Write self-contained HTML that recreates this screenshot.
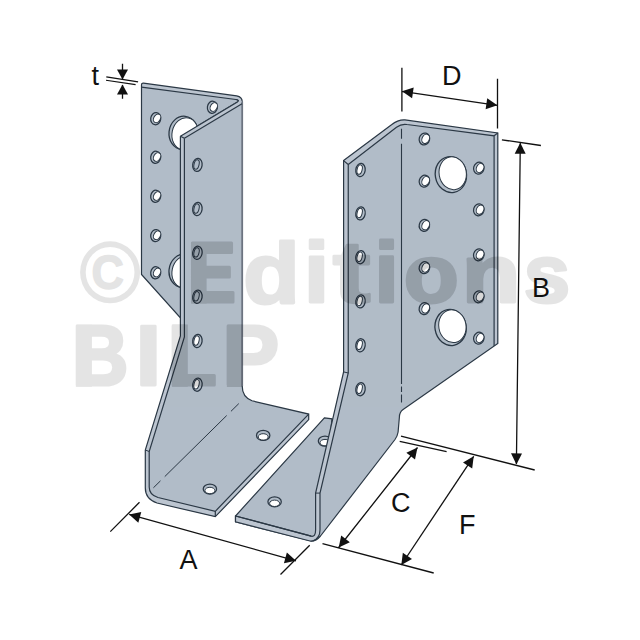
<!DOCTYPE html>
<html><head><meta charset="utf-8"><style>
html,body{margin:0;padding:0;background:#fff;width:640px;height:640px;overflow:hidden}
svg{display:block}
</style></head><body>
<svg width="640" height="640" viewBox="0 0 640 640">
<rect width="640" height="640" fill="#fff"/>
<path d="M141.5,85 Q141.5,83 143.5,83.2 L236.7,95.9 Q242.2,97 242.2,101.5 L242.2,340 L180.5,318 L141.5,274.5 Z" fill="#b1bcc8" stroke="none"/>
<path d="M141.5,85 Q141.5,83 143.5,83.2 L236.7,95.9 Q242.2,97 242.2,101.5 L242,103.8 L237.4,102 Q239.8,100.3 235.9,99.5 L141.5,87.2 Z" fill="#bcc5d0" stroke="none"/>
<path d="M141.5,85 Q141.5,83 143.5,83.2 L236.7,95.9 Q242.2,97 242.2,101.5 L242.2,340 L180.5,318 L141.5,274.5 Z" fill="none" stroke="#2b3845" stroke-width="1.2" />
<path d="M141.5,87.2 L235.9,99.5 Q239.8,100.3 237.4,102 L180.4,136.2" fill="none" stroke="#2b3845" stroke-width="1.2" />
<g transform="translate(155.7,118.7) rotate(8)"><ellipse rx="5.0" ry="6.1" fill="#b1bcc8" stroke="#2b3845" stroke-width="1.25"/><ellipse transform="translate(1.3,-0.5) rotate(22)" rx="3.3" ry="4.6" fill="#fff" stroke="#2b3845" stroke-width="1.0"/></g>
<g transform="translate(155.7,157.3) rotate(8)"><ellipse rx="5.0" ry="6.1" fill="#b1bcc8" stroke="#2b3845" stroke-width="1.25"/><ellipse transform="translate(1.3,-0.5) rotate(22)" rx="3.3" ry="4.6" fill="#fff" stroke="#2b3845" stroke-width="1.0"/></g>
<g transform="translate(155.7,196.3) rotate(8)"><ellipse rx="5.0" ry="6.1" fill="#b1bcc8" stroke="#2b3845" stroke-width="1.25"/><ellipse transform="translate(1.3,-0.5) rotate(22)" rx="3.3" ry="4.6" fill="#fff" stroke="#2b3845" stroke-width="1.0"/></g>
<g transform="translate(155.7,235.60000000000002) rotate(8)"><ellipse rx="5.0" ry="6.1" fill="#b1bcc8" stroke="#2b3845" stroke-width="1.25"/><ellipse transform="translate(1.3,-0.5) rotate(22)" rx="3.3" ry="4.6" fill="#fff" stroke="#2b3845" stroke-width="1.0"/></g>
<g transform="translate(155.7,272.8) rotate(8)"><ellipse rx="5.0" ry="6.1" fill="#b1bcc8" stroke="#2b3845" stroke-width="1.25"/><ellipse transform="translate(1.3,-0.5) rotate(22)" rx="3.3" ry="4.6" fill="#fff" stroke="#2b3845" stroke-width="1.0"/></g>
<g transform="translate(212.4,107.3) rotate(8)"><ellipse rx="5.0" ry="6.1" fill="#b1bcc8" stroke="#2b3845" stroke-width="1.25"/><ellipse transform="translate(1.3,-0.5) rotate(22)" rx="3.3" ry="4.6" fill="#fff" stroke="#2b3845" stroke-width="1.0"/></g>
<g transform="translate(183.5,133) rotate(6)"><ellipse rx="14.5" ry="16.8" fill="#b1bcc8" stroke="#2b3845" stroke-width="1.3"/><ellipse transform="translate(1.6,0.6) rotate(6)" rx="13.0" ry="16.2" fill="#fff" stroke="#2b3845" stroke-width="1.0"/></g>
<g transform="translate(183.5,271) rotate(6)"><ellipse rx="14.5" ry="16.8" fill="#b1bcc8" stroke="#2b3845" stroke-width="1.3"/><ellipse transform="translate(1.6,0.6) rotate(6)" rx="13.0" ry="16.2" fill="#fff" stroke="#2b3845" stroke-width="1.0"/></g>
<path d="M180.4,136.2 L237.9,101.6 Q240,100.5 242.2,101.5 L242.2,386 Q242.2,397 252,400.8 L308.7,414.1 L308.7,419.6 L215.3,516.7 L157,503 Q145.3,499 145.3,488 L145.3,450 L180.4,336 Z" fill="#b1bcc8" stroke="none"/>
<path d="M180.4,136.2 L237.9,101.6 Q240,100.5 242.2,101.5 L241.6,104.5 L184.4,138.3 Z" fill="#bcc5d0" stroke="none"/>
<path d="M180.4,136.2 L184.4,138.3 L184.4,337 L149.2,451.5 L149.2,487 Q149.2,495 158,497.5 L215.3,511.3 L308.7,414.1 L308.7,419.6 L215.3,516.7 L157,503 Q145.3,499 145.3,488 L145.3,450 L180.4,336 Z" fill="#bcc5d0" stroke="none"/>
<path d="M242.2,386 Q242.2,397 252,400.8 L308.7,414.1 L308.7,419.6 L215.3,516.7 L157,503 Q145.3,499 145.3,488 L145.3,450 L180.4,336 L180.4,136.2" fill="none" stroke="#2b3845" stroke-width="1.2" />
<path d="M242.2,101.5 L242.2,386" fill="none" stroke="#6c7480" stroke-width="1.8" />
<path d="M184.4,138.3 L242,103.8" fill="none" stroke="#2b3845" stroke-width="1.2" />
<path d="M235.9,99.5 Q239.8,100.3 237.4,102 L180.4,136.2" fill="none" stroke="#2b3845" stroke-width="1.2" />
<path d="M180.4,136.2 L184.4,138.3" fill="none" stroke="#2b3845" stroke-width="1.2" />
<path d="M184.4,138.3 L184.4,337 L149.2,451.5 L149.2,487 Q149.2,495 158,497.5 L215.3,511.3 L308.7,414.1" fill="none" stroke="#2b3845" stroke-width="1.2" />
<path d="M215.3,511.3 L215.3,516.7" fill="none" stroke="#2b3845" stroke-width="1.2" />
<path d="M145.3,450 L149.2,451.5" fill="none" stroke="#2b3845" stroke-width="1.0" />
<path d="M238.8,403.6 L153.4,487.8" fill="none" stroke="#2b3845" stroke-width="1.0" stroke-dasharray="11,6,87,6,11"/>
<g transform="translate(197.4,164.9) rotate(8)"><ellipse rx="4.7" ry="6.6" fill="#b1bcc8" stroke="#2b3845" stroke-width="1.25"/><ellipse transform="translate(-0.9,-0.3) rotate(6)" rx="2.5" ry="4.8" fill="#b1bcc8" stroke="#2b3845" stroke-width="1.0"/></g>
<g transform="translate(197.4,209) rotate(8)"><ellipse rx="4.7" ry="6.6" fill="#b1bcc8" stroke="#2b3845" stroke-width="1.25"/><ellipse transform="translate(-0.9,-0.3) rotate(6)" rx="2.5" ry="4.8" fill="#b1bcc8" stroke="#2b3845" stroke-width="1.0"/></g>
<g transform="translate(197.4,252.8) rotate(8)"><ellipse rx="4.7" ry="6.6" fill="#b1bcc8" stroke="#2b3845" stroke-width="1.25"/><ellipse transform="translate(-0.9,-0.3) rotate(6)" rx="2.5" ry="4.8" fill="#b1bcc8" stroke="#2b3845" stroke-width="1.0"/></g>
<g transform="translate(197.4,296.75) rotate(8)"><ellipse rx="4.7" ry="6.6" fill="#b1bcc8" stroke="#2b3845" stroke-width="1.25"/><ellipse transform="translate(-0.9,-0.3) rotate(6)" rx="2.5" ry="4.8" fill="#b1bcc8" stroke="#2b3845" stroke-width="1.0"/></g>
<g transform="translate(197.4,341) rotate(8)"><ellipse rx="4.7" ry="6.6" fill="#b1bcc8" stroke="#2b3845" stroke-width="1.25"/><ellipse transform="translate(-0.9,-0.3) rotate(6)" rx="2.5" ry="4.8" fill="#fff" stroke="#2b3845" stroke-width="1.0"/></g>
<g transform="translate(197.4,384.7) rotate(8)"><ellipse rx="4.7" ry="6.6" fill="#b1bcc8" stroke="#2b3845" stroke-width="1.25"/><ellipse transform="translate(-0.9,-0.3) rotate(6)" rx="2.5" ry="4.8" fill="#fff" stroke="#2b3845" stroke-width="1.0"/></g>
<g transform="translate(263.2,435.4) rotate(0)"><ellipse rx="6.7" ry="5.0" fill="#b1bcc8" stroke="#2b3845" stroke-width="1.25"/><ellipse transform="translate(0,1.5) rotate(0)" rx="5.0" ry="3.2" fill="#fff" stroke="#2b3845" stroke-width="1.0"/></g>
<g transform="translate(209.9,489) rotate(0)"><ellipse rx="6.7" ry="5.0" fill="#b1bcc8" stroke="#2b3845" stroke-width="1.25"/><ellipse transform="translate(0,1.5) rotate(0)" rx="5.0" ry="3.2" fill="#fff" stroke="#2b3845" stroke-width="1.0"/></g>
<path d="M324.4,417.8 L332,418.8 L320,535 L312,541 L235.5,521.9 L235.5,516 Z" fill="#b1bcc8" stroke="none"/>
<path d="M324.4,417.8 L332,418.8 L320,535 L312,541 L235.5,521.9 L235.5,516 Z" fill="none" stroke="#2b3845" stroke-width="1.2" />
<g transform="translate(274.6,501.8) rotate(0)"><ellipse rx="6.7" ry="5.0" fill="#b1bcc8" stroke="#2b3845" stroke-width="1.25"/><ellipse transform="translate(0,1.5) rotate(0)" rx="5.0" ry="3.2" fill="#fff" stroke="#2b3845" stroke-width="1.0"/></g>
<g transform="translate(325.0,441.1) rotate(0)"><ellipse rx="6.7" ry="5.0" fill="#b1bcc8" stroke="#2b3845" stroke-width="1.25"/><ellipse transform="translate(0,1.5) rotate(0)" rx="5.0" ry="3.2" fill="#fff" stroke="#2b3845" stroke-width="1.0"/></g>
<path d="M343.6,160.6 L391.5,124.7 Q398,119.5 405,119.9 L497.8,133 L497.8,343.4 L403.1,409.4 Q399.4,412 399.4,417 L398.1,432 Q397.5,436 395,439.5 L320.5,536 Q316,541.5 310,541 L235.5,521.9 L235.5,516 L311.2,536.2 Q315.6,537 315.6,530 L315.6,493.1 L343.6,371.9 Z" fill="#b1bcc8" stroke="none"/>
<path d="M343.6,160.6 L348.25,164.5 L348.25,373 L320,493.1 L320,530 Q320,538 313,541 L310,541 L235.5,521.9 L235.5,516 L311.2,536.2 Q315.6,537 315.6,530 L315.6,493.1 L343.6,371.9 Z" fill="#bcc5d0" stroke="none"/>
<path d="M343.6,160.6 L391.5,124.7 Q398,119.5 405,119.9 L497.8,133 L497.8,343.4 L494.1,346 L494.1,135.8 L407,124.5 Q401.5,123.5 396.5,127.2 L348.25,164.5 Z" fill="#bcc5d0" stroke="none"/>
<path d="M343.6,160.6 L391.5,124.7 Q398,119.5 405,119.9 L497.8,133 L497.8,343.4 L403.1,409.4 Q399.4,412 399.4,417 L398.1,432 Q397.5,436 395,439.5 L320.5,536 Q316,541.5 310,541 L235.5,521.9 L235.5,516 L311.2,536.2 Q315.6,537 315.6,530 L315.6,493.1 L343.6,371.9 Z" fill="none" stroke="#2b3845" stroke-width="1.2" />
<path d="M235.5,516 L311.2,536.2" fill="none" stroke="#2b3845" stroke-width="1.2" />
<path d="M348.25,164.5 L396.5,127.2 Q401.5,123.5 407,124.5 L494.1,135.8 L494.1,346" fill="none" stroke="#2b3845" stroke-width="1.2" />
<path d="M343.6,160.6 L348.25,164.5 L348.25,373 L320,493.1 L320,530 Q320,538 313,541" fill="none" stroke="#2b3845" stroke-width="1.2" />
<path d="M494.1,135.8 L497.8,133" fill="none" stroke="#2b3845" stroke-width="1.2" />
<path d="M315.6,493.1 L320,493.1" fill="none" stroke="#2b3845" stroke-width="1.0" />
<path d="M343.6,371.9 L348.25,373" fill="none" stroke="#2b3845" stroke-width="1.0" />
<path d="M401.5,128.7 L401.5,138.7 M401.5,143.7 L401.5,384 M401.5,386.5 L401.5,391.9 M401.5,394.5 L401.5,402.5" fill="none" stroke="#2b3845" stroke-width="1.1" />
<g transform="translate(360.5,170) rotate(8)"><ellipse rx="4.7" ry="6.6" fill="#b1bcc8" stroke="#2b3845" stroke-width="1.25"/><ellipse transform="translate(-0.9,-0.3) rotate(6)" rx="2.5" ry="4.8" fill="#fff" stroke="#2b3845" stroke-width="1.0"/></g>
<g transform="translate(360.5,213.4) rotate(8)"><ellipse rx="4.7" ry="6.6" fill="#b1bcc8" stroke="#2b3845" stroke-width="1.25"/><ellipse transform="translate(-0.9,-0.3) rotate(6)" rx="2.5" ry="4.8" fill="#fff" stroke="#2b3845" stroke-width="1.0"/></g>
<g transform="translate(360.5,257.2) rotate(8)"><ellipse rx="4.7" ry="6.6" fill="#b1bcc8" stroke="#2b3845" stroke-width="1.25"/><ellipse transform="translate(-0.9,-0.3) rotate(6)" rx="2.5" ry="4.8" fill="#fff" stroke="#2b3845" stroke-width="1.0"/></g>
<g transform="translate(360.5,301.4) rotate(8)"><ellipse rx="4.7" ry="6.6" fill="#b1bcc8" stroke="#2b3845" stroke-width="1.25"/><ellipse transform="translate(-0.9,-0.3) rotate(6)" rx="2.5" ry="4.8" fill="#fff" stroke="#2b3845" stroke-width="1.0"/></g>
<g transform="translate(360.5,345.3) rotate(8)"><ellipse rx="4.7" ry="6.6" fill="#b1bcc8" stroke="#2b3845" stroke-width="1.25"/><ellipse transform="translate(-0.9,-0.3) rotate(6)" rx="2.5" ry="4.8" fill="#fff" stroke="#2b3845" stroke-width="1.0"/></g>
<g transform="translate(360.5,389.2) rotate(8)"><ellipse rx="4.7" ry="6.6" fill="#b1bcc8" stroke="#2b3845" stroke-width="1.25"/><ellipse transform="translate(-0.9,-0.3) rotate(6)" rx="2.5" ry="4.8" fill="#fff" stroke="#2b3845" stroke-width="1.0"/></g>
<g transform="translate(424.4,139) rotate(15)"><ellipse rx="5.2" ry="6.0" fill="#b1bcc8" stroke="#2b3845" stroke-width="1.25"/><ellipse transform="translate(1.2,-0.5) rotate(10)" rx="3.6" ry="4.8" fill="#fff" stroke="#2b3845" stroke-width="1.0"/></g>
<g transform="translate(424.4,181.2) rotate(15)"><ellipse rx="5.2" ry="6.0" fill="#b1bcc8" stroke="#2b3845" stroke-width="1.25"/><ellipse transform="translate(1.2,-0.5) rotate(10)" rx="3.6" ry="4.8" fill="#fff" stroke="#2b3845" stroke-width="1.0"/></g>
<g transform="translate(424.4,225.4) rotate(15)"><ellipse rx="5.2" ry="6.0" fill="#b1bcc8" stroke="#2b3845" stroke-width="1.25"/><ellipse transform="translate(1.2,-0.5) rotate(10)" rx="3.6" ry="4.8" fill="#fff" stroke="#2b3845" stroke-width="1.0"/></g>
<g transform="translate(424.4,267.7) rotate(15)"><ellipse rx="5.2" ry="6.0" fill="#b1bcc8" stroke="#2b3845" stroke-width="1.25"/><ellipse transform="translate(1.2,-0.5) rotate(10)" rx="3.6" ry="4.8" fill="#fff" stroke="#2b3845" stroke-width="1.0"/></g>
<g transform="translate(424.4,308.6) rotate(15)"><ellipse rx="5.2" ry="6.0" fill="#b1bcc8" stroke="#2b3845" stroke-width="1.25"/><ellipse transform="translate(1.2,-0.5) rotate(10)" rx="3.6" ry="4.8" fill="#fff" stroke="#2b3845" stroke-width="1.0"/></g>
<g transform="translate(478.8,168.2) rotate(15)"><ellipse rx="5.2" ry="6.0" fill="#b1bcc8" stroke="#2b3845" stroke-width="1.25"/><ellipse transform="translate(1.2,-0.5) rotate(10)" rx="3.6" ry="4.8" fill="#fff" stroke="#2b3845" stroke-width="1.0"/></g>
<g transform="translate(478.8,209.8) rotate(15)"><ellipse rx="5.2" ry="6.0" fill="#b1bcc8" stroke="#2b3845" stroke-width="1.25"/><ellipse transform="translate(1.2,-0.5) rotate(10)" rx="3.6" ry="4.8" fill="#fff" stroke="#2b3845" stroke-width="1.0"/></g>
<g transform="translate(478.8,254.8) rotate(15)"><ellipse rx="5.2" ry="6.0" fill="#b1bcc8" stroke="#2b3845" stroke-width="1.25"/><ellipse transform="translate(1.2,-0.5) rotate(10)" rx="3.6" ry="4.8" fill="#fff" stroke="#2b3845" stroke-width="1.0"/></g>
<g transform="translate(478.8,296.8) rotate(15)"><ellipse rx="5.2" ry="6.0" fill="#b1bcc8" stroke="#2b3845" stroke-width="1.25"/><ellipse transform="translate(1.2,-0.5) rotate(10)" rx="3.6" ry="4.8" fill="#fff" stroke="#2b3845" stroke-width="1.0"/></g>
<g transform="translate(478.8,338.2) rotate(15)"><ellipse rx="5.2" ry="6.0" fill="#b1bcc8" stroke="#2b3845" stroke-width="1.25"/><ellipse transform="translate(1.2,-0.5) rotate(10)" rx="3.6" ry="4.8" fill="#fff" stroke="#2b3845" stroke-width="1.0"/></g>
<g transform="translate(450.9,174.6) rotate(-10)"><ellipse rx="15.6" ry="18.1" fill="#b1bcc8" stroke="#2b3845" stroke-width="1.3"/><ellipse transform="translate(2.0,-1.0) rotate(0)" rx="13.6" ry="16.5" fill="#fff" stroke="#2b3845" stroke-width="1.0"/></g>
<g transform="translate(450.6,327.5) rotate(-10)"><ellipse rx="15.6" ry="18.1" fill="#b1bcc8" stroke="#2b3845" stroke-width="1.3"/><ellipse transform="translate(2.0,-1.0) rotate(0)" rx="13.6" ry="16.5" fill="#fff" stroke="#2b3845" stroke-width="1.0"/></g>
<path d="M122.5,63.7 L122.5,79 M122.5,85 L122.5,98.7" stroke="#111" stroke-width="1.3" fill="none"/>
<path d="M122.50,79.40 L128.00,69.40 L117.00,69.40 Z" fill="#111"/>
<path d="M122.50,84.40 L117.00,94.40 L128.00,94.40 Z" fill="#111"/>
<path d="M106.3,76.9 L138.1,81.9 M106,80.3 L135.6,84.6" stroke="#111" stroke-width="1.1" fill="none"/>
<path d="M401.9,67.8 L401.9,111.6 M497.5,78.7 L497.5,128.6 M402,91.3 L497.3,105.3" stroke="#111" stroke-width="1.3" fill="none"/>
<path d="M402.00,91.30 L412.08,98.34 L413.68,87.46 Z" fill="#111"/>
<path d="M497.30,105.30 L487.22,98.26 L485.62,109.14 Z" fill="#111"/>
<path d="M501.9,139.8 L540.9,145.5 M401,436.2 L534.7,470 M399.7,441.3 L446.6,451.7 M520.3,143 L516.4,464" stroke="#111" stroke-width="1.3" fill="none"/>
<path d="M520.30,142.70 L514.67,153.63 L525.67,153.77 Z" fill="#111"/>
<path d="M516.40,464.40 L522.03,453.47 L511.03,453.33 Z" fill="#111"/>
<path d="M322.5,543.7 L433.7,573 M338.7,547.5 L417.5,447.5" stroke="#111" stroke-width="1.3" fill="none"/>
<path d="M338.70,547.50 L349.83,542.26 L341.19,535.46 Z" fill="#111"/>
<path d="M417.50,447.50 L406.37,452.74 L415.01,459.54 Z" fill="#111"/>
<path d="M473.7,456.3 L401.3,565" stroke="#111" stroke-width="1.3" fill="none"/>
<path d="M473.70,456.30 L463.02,462.41 L472.18,468.50 Z" fill="#111"/>
<path d="M401.30,565.00 L411.98,558.89 L402.82,552.80 Z" fill="#111"/>
<path d="M110.3,531.6 L139.5,502.3 M280.5,574.5 L309.7,545.3 M129.2,514.4 L296,560.8" stroke="#111" stroke-width="1.3" fill="none"/>
<path d="M129.20,514.40 L138.32,522.65 L141.27,512.05 Z" fill="#111"/>
<path d="M296.00,560.80 L286.88,552.55 L283.93,563.15 Z" fill="#111"/>

<g font-size="27" font-family="Liberation Sans" fill="#111">
<text x="179.5" y="568.5">A</text>
<text x="532" y="297">B</text>
<text x="391" y="512">C</text>
<text x="442" y="84.5">D</text>
<text x="459" y="534">F</text>
<text x="91.5" y="85">t</text>
</g>


<defs>
<clipPath id="pc"><path d="M141.5,85 Q141.5,83 143.5,83.2 L236.7,95.9 Q242.2,97 242.2,101.5 L242.2,340 L180.5,318 L141.5,274.5 Z"/><path d="M180.4,136.2 L237.9,101.6 Q240,100.5 242.2,101.5 L242.2,386 Q242.2,397 252,400.8 L308.7,414.1 L308.7,419.6 L215.3,516.7 L157,503 Q145.3,499 145.3,488 L145.3,450 L180.4,336 Z"/><path d="M324.4,417.8 L332,418.8 L320,535 L312,541 L235.5,521.9 L235.5,516 Z"/><path d="M343.6,160.6 L391.5,124.7 Q398,119.5 405,119.9 L497.8,133 L497.8,343.4 L403.1,409.4 Q399.4,412 399.4,417 L398.1,432 Q397.5,436 395,439.5 L320.5,536 Q316,541.5 310,541 L235.5,521.9 L235.5,516 L311.2,536.2 Q315.6,537 315.6,530 L315.6,493.1 L343.6,371.9 Z"/></clipPath>
<g id="wmg">
<path fill-rule="evenodd" stroke="none" d="M140.1,272.3 A30,31 0 1 0 80.1,272.3 A30,31 0 1 0 140.1,272.3 Z M134.5,272.3 A24.4,25.4 0 1 0 85.7,272.3 A24.4,25.4 0 1 0 134.5,272.3 Z"/>
<path stroke="none" d="M191.1,242.3 H206.6 V303.6 H191.1 Z M75.9,324.75 H91.9 V386.8 H75.9 Z M171.9,324.6 H187.8 V386.8 H171.9 Z M226.9,324.75 H242.6 V386.9 H226.9 Z"/>
<g font-family="Liberation Sans" font-weight="bold" stroke="#000" stroke-linejoin="round">
<g stroke-width="3"><text vector-effect="non-scaling-stroke" transform="translate(187.51,302.10) scale(0.7268,0.8449)" font-size="100">E</text><text vector-effect="non-scaling-stroke" transform="translate(243.30,302.70) scale(0.9240,0.8521)" font-size="100">d</text><text vector-effect="non-scaling-stroke" transform="translate(303.93,302.30) scale(0.9036,0.8466)" font-size="100">i</text><text vector-effect="non-scaling-stroke" transform="translate(332.87,301.63) scale(1.1323,0.8674)" font-size="100">t</text><text vector-effect="non-scaling-stroke" transform="translate(374.40,302.30) scale(0.8714,0.8466)" font-size="100">i</text><text vector-effect="non-scaling-stroke" transform="translate(403.79,302.38) scale(0.9019,0.8200)" font-size="100">o</text><text vector-effect="non-scaling-stroke" transform="translate(461.87,302.10) scale(0.9615,0.8213)" font-size="100">n</text><text vector-effect="non-scaling-stroke" transform="translate(523.76,302.08) scale(0.8340,0.8209)" font-size="100">s</text><text vector-effect="non-scaling-stroke" transform="translate(71.93,385.30) scale(0.7820,0.8558)" font-size="100">B</text><text vector-effect="non-scaling-stroke" transform="translate(135.60,385.30) scale(0.9286,0.8580)" font-size="100">I</text><text vector-effect="non-scaling-stroke" transform="translate(167.77,385.30) scale(0.8039,0.8580)" font-size="100">L</text><text vector-effect="non-scaling-stroke" transform="translate(222.45,385.40) scale(0.8500,0.8572)" font-size="100">P</text></g>
<g stroke-width="1.5"><text vector-effect="non-scaling-stroke" transform="translate(91.56,288.78) scale(0.4485,0.4718)" font-size="100">C</text></g>
</g>
</g>
</defs>
<g opacity="0.1" fill="#000"><use href="#wmg"/></g>
<g opacity="0.05" fill="#000" clip-path="url(#pc)"><use href="#wmg"/></g>

</svg></body></html>
